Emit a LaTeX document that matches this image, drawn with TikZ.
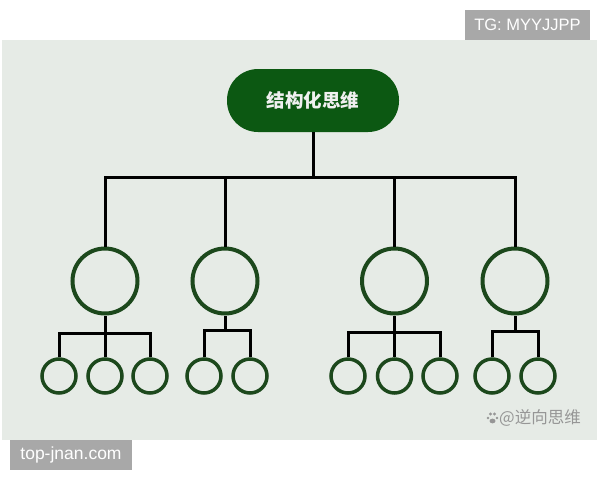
\documentclass[tikz,border=0pt]{standalone}
\usepackage{fontspec}
\setmainfont{Liberation Sans}
\newfontfamily\cjk{Noto Sans CJK SC}
\definecolor{panel}{RGB}{230,235,230}
\definecolor{rootgreen}{RGB}{12,88,18}
\definecolor{ringgreen}{RGB}{28,72,28}
\definecolor{tagback}{RGB}{168,168,168}
\definecolor{wmgray}{RGB}{150,150,150}
\begin{document}
\begin{tikzpicture}[x=1pt,y=-1pt,
  rootbox/.style={draw=none,fill=rootgreen,rounded corners=31pt,minimum width=172pt,minimum height=63pt,inner sep=0pt,text=white!94!black,font=\cjk\bfseries\fontsize{18.5}{20}\selectfont},
  midring/.style={circle,draw=ringgreen,line width=4pt,fill=panel,minimum size=65pt,inner sep=0pt},
  smallring/.style={circle,draw=ringgreen,line width=3.5pt,fill=panel,minimum size=34pt,inner sep=0pt},
  link/.style={draw=black,line width=3pt,line join=miter},
  tag/.style={fill=tagback,text=white,inner sep=0pt,font=\fontsize{16.5}{18}\selectfont}]
\useasboundingbox (0,0) rectangle (600,480);
\fill[white] (0,0) rectangle (600,480);
\fill[panel] (2,40) rectangle (597,440);
% tags
\node[tag,minimum width=125pt,minimum height=30pt] (tg) at (527.5,25) {TG: MYYJJPP};
\node[tag,minimum width=122pt,minimum height=30pt,font=\fontsize{17.5}{19}\selectfont] (site) at (71,455) {top-jnan.com};
% root
\node[rootbox] (root) at (313,100.5) {结构化思维};
\coordinate (bar) at (313,177);
% middle rings
\node[midring] (m1) at (105,281) {};
\node[midring] (m2) at (225,281) {};
\node[midring] (m3) at (394.5,281) {};
\node[midring] (m4) at (515,281) {};
% small rings
\node[smallring] (s11) at (59,376) {};
\node[smallring] (s12) at (105,376) {};
\node[smallring] (s13) at (150,376) {};
\node[smallring] (s21) at (204,376) {};
\node[smallring] (s22) at (250,376) {};
\node[smallring] (s31) at (348,376) {};
\node[smallring] (s32) at (394.5,376) {};
\node[smallring] (s33) at (440,376) {};
\node[smallring] (s41) at (492,376) {};
\node[smallring] (s42) at (538,376) {};
\coordinate (b1) at (0,333);
\coordinate (b2) at (0,330);
\coordinate (b3) at (0,332);
\coordinate (b4) at (0,331);
% top connectors
\draw[link] (root.south) -- (bar);
\draw[link] (m1.north) -- (m1.north |- bar) -- (m4.north |- bar) -- (m4.north);
\draw[link] (m2.north) -- (m2.north |- bar);
\draw[link] (m3.north) -- (m3.north |- bar);
% group 1
\draw[link] (m1.south) -- (s12.north);
\draw[link] (s11.north) -- (s11.north |- b1) -- (s13.north |- b1) -- (s13.north);
% group 2
\draw[link] (m2.south) -- (m2.south |- b2);
\draw[link] (s21.north) -- (s21.north |- b2) -- (s22.north |- b2) -- (s22.north);
% group 3
\draw[link] (m3.south) -- (s32.north);
\draw[link] (s31.north) -- (s31.north |- b3) -- (s33.north |- b3) -- (s33.north);
% group 4
\draw[link] (m4.south) -- (m4.south |- b4);
\draw[link] (s41.north) -- (s41.north |- b4) -- (s42.north |- b4) -- (s42.north);
% watermark
\begin{scope}[wmgray]
\fill (490.5,414) circle (1.6pt);
\fill (494.5,414) circle (1.6pt);
\fill (488,418) circle (1.4pt);
\fill (497,418) circle (1.4pt);
\fill (492.5,421) ellipse (3pt and 2.4pt);
\end{scope}
\node[text=wmgray,inner sep=0pt,anchor=west,font=\cjk\fontsize{16.5}{18}\selectfont] (wm) at (499,418) {@逆向思维};
\end{tikzpicture}
\end{document}
